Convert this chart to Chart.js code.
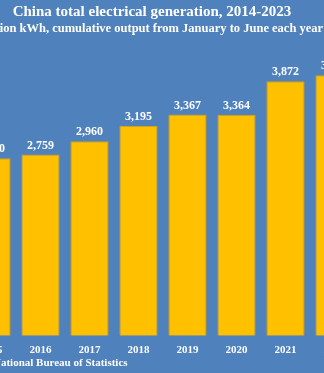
<!DOCTYPE html>
<html>
<head>
<meta charset="utf-8">
<script src="https://cdn.jsdelivr.net/npm/chart.js@4.4.1/dist/chart.umd.min.js"></script>
<style>
  html, body { margin: 0; padding: 0; background: #4F81BD; overflow: hidden; }
  #wrap { position: relative; width: 324px; height: 373px; overflow: hidden; }
  #chart { position: absolute; left: -110px; top: 0; }
</style>
</head>
<body>
<div id="wrap"><canvas id="chart" width="524" height="373"></canvas></div>
<script>
// first-half generation, billion kWh
const years = ['2014', '2015', '2016', '2017', '2018', '2019', '2020', '2021', '2022', '2023'];
const output = [2650, 2700, 2759, 2960, 3195, 3367, 3364, 3872, 3963, 4168];

const titleText = 'China total electrical generation, 2014-2023';
const subtitleText = 'Billion kWh, cumulative output from January to June each year';
const sourceText = 'Source: National Bureau of Statistics';

const serif = "'Liberation Serif', 'DejaVu Serif', serif";

// title block is not centred on the bars in the original, so draw it by hand
const headings = {
  id: 'headings',
  afterDraw(chart) {
    const ctx = chart.ctx;
    ctx.save();
    ctx.fillStyle = '#ffffff';
    ctx.textAlign = 'center';
    ctx.textBaseline = 'middle';
    ctx.font = 'bold 15px ' + serif;
    ctx.fillText(titleText, 262, 12);
    ctx.font = 'bold 12.5px ' + serif;
    ctx.fillText(subtitleText, 262, 29);
    ctx.restore();
  }
};

const valueLabels = {
  id: 'valueLabels',
  afterDatasetsDraw(chart) {
    const ctx = chart.ctx;
    ctx.save();
    ctx.fillStyle = '#ffffff';
    ctx.font = 'bold 12px ' + serif;
    ctx.textAlign = 'center';
    ctx.textBaseline = 'bottom';
    chart.getDatasetMeta(0).data.forEach((bar, i) => {
      ctx.fillText(output[i].toLocaleString('en-US'), bar.x, bar.y - 3);
    });
    ctx.restore();
  }
};

const sourceNote = {
  id: 'sourceNote',
  afterDraw(chart) {
    const ctx = chart.ctx;
    ctx.save();
    ctx.fillStyle = '#ffffff';
    ctx.font = 'bold 11px ' + serif;
    ctx.textBaseline = 'middle';
    const lead = ctx.measureText('Source: ').width;
    ctx.fillText(sourceText, 103 - lead, 363);
    ctx.restore();
  }
};

new Chart(document.getElementById('chart'), {
  type: 'bar',
  data: {
    labels: years,
    datasets: [{
      data: output,
      backgroundColor: '#FFC000',
      borderColor: '#E0A000',
      borderWidth: 1,
      barPercentage: 0.78,
      categoryPercentage: 1
    }]
  },
  options: {
    responsive: false,
    devicePixelRatio: 1,
    animation: false,
    layout: { padding: { left: 28, right: 6, top: 40, bottom: 16 } },
    plugins: {
      legend: { display: false },
      tooltip: { enabled: false },
      title: { display: false },
      subtitle: { display: false }
    },
    scales: {
      x: {
        grid: { display: false },
        border: { display: false },
        ticks: { color: '#ffffff', font: { family: serif, size: 11, weight: 'bold' }, padding: 0 }
      },
      y: {
        display: false,
        min: 0,
        max: 4500
      }
    }
  },
  plugins: [valueLabels, headings, sourceNote]
});
</script>
</body>
</html>
